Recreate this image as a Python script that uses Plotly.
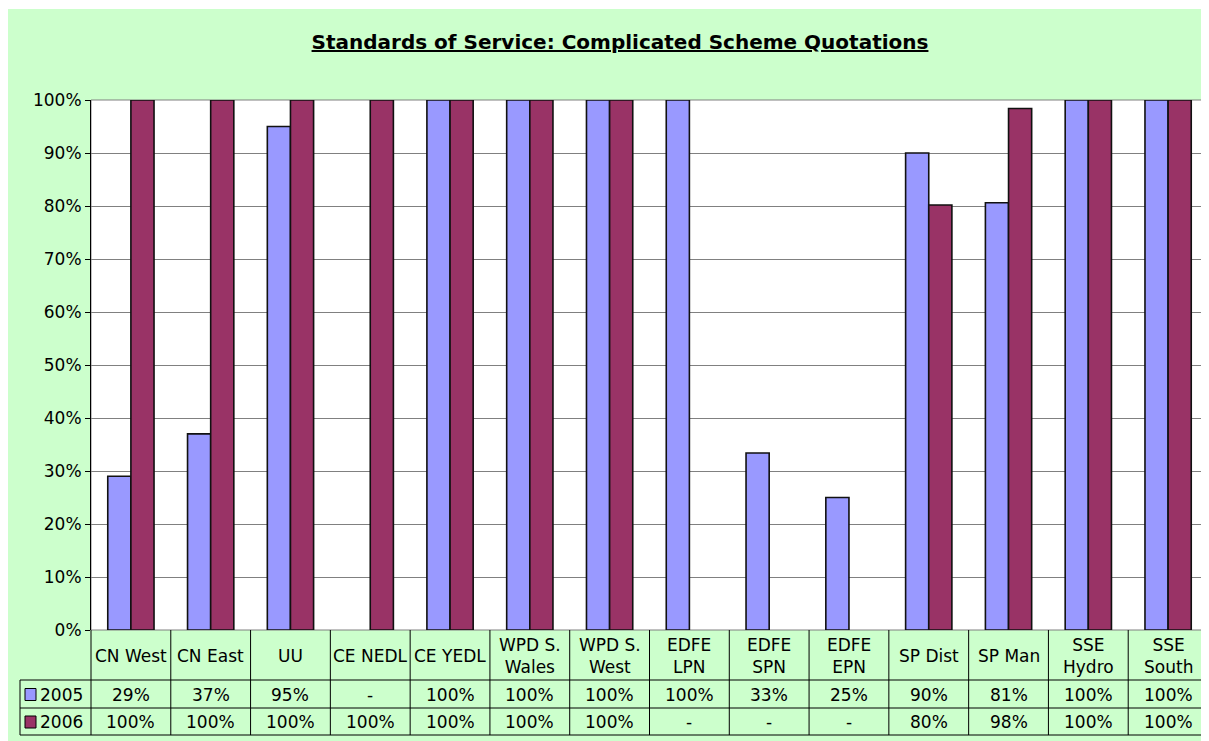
import plotly.graph_objects as go

# chart data
categories = ['CN West', 'CN East', 'UU', 'CE NEDL', 'CE YEDL', 'WPD S. Wales', 'WPD S. West',
              'EDFE LPN', 'EDFE SPN', 'EDFE EPN', 'SP Dist', 'SP Man', 'SSE Hydro', 'SSE South']
labels = ['CN West', 'CN East', 'UU', 'CE NEDL', 'CE YEDL', 'WPD S.<br>Wales', 'WPD S.<br>West',
          'EDFE<br>LPN', 'EDFE<br>SPN', 'EDFE<br>EPN', 'SP Dist', 'SP Man', 'SSE<br>Hydro', 'SSE<br>South']
y2005 = [0.29, 0.37, 0.95, None, 1.0, 1.0, 1.0, 1.0, 0.334, 0.25, 0.90, 0.806, 1.0, 1.0]
y2006 = [1.0, 1.0, 1.0, 1.0, 1.0, 1.0, 1.0, None, None, None, 0.802, 0.984, 1.0, 1.0]
series = ['2005', '2006']
colors = ['#9999FF', '#993366']

# page has an 8px body margin, so the figure sits at (8, 8)
OFF = 8
W, H = 1209, 741
L, R, T, B = 91, 1208, 100, 630   # plot area in page pixels
font = 'DejaVu Sans'


def px(x):
    return (x - L) / (R - L)


def py(y):
    return (B - y) / (B - T)


fig = go.Figure()
for name, vals, col in zip(series, [y2005, y2006], colors):
    fig.add_trace(go.Bar(x=categories, y=vals, name=name, marker_color=col,
                         marker_line=dict(color='#111111', width=1.6), showlegend=False))

shapes = [
    # green chart area + white plot area
    dict(type='rect', xref='paper', yref='paper', x0=px(7), x1=px(W + 2), y0=py(H + 2), y1=py(9),
         fillcolor='#CCFFCC', line_width=0, layer='below'),
    dict(type='rect', xref='paper', yref='paper', x0=0, x1=1, y0=0, y1=1,
         fillcolor='white', line=dict(color='#808080', width=1), layer='below'),
]
# data table lines
line = dict(color='black', width=1)
for yy in [680, 708, 735]:
    shapes.append(dict(type='line', xref='paper', yref='paper', x0=px(20), x1=1, y0=py(yy), y1=py(yy), line=line))
shapes.append(dict(type='line', xref='paper', yref='paper', x0=px(20), x1=px(20), y0=py(680), y1=py(735), line=line))
for i in range(len(categories) + 1):
    shapes.append(dict(type='line', xref='paper', yref='paper', x0=i / len(categories), x1=i / len(categories),
                       y0=0, y1=py(735), line=line))

tfont = dict(family=font, size=17, color='black')
annotations = []
for i, lab in enumerate(labels):
    annotations.append(dict(x=categories[i], y=py(656), xref='x', yref='paper', text=lab, showarrow=False,
                            font=tfont, xanchor='center', yanchor='middle'))
for name, vals, col, yc in zip(series, [y2005, y2006], colors, [694.5, 722]):
    shapes.append(dict(type='rect', xref='paper', yref='paper', x0=px(25), x1=px(36),
                       y0=py(yc + 6), y1=py(yc - 6), fillcolor=col, line=dict(color='black', width=1)))
    annotations.append(dict(x=px(38), y=py(yc), xref='paper', yref='paper', text=name, showarrow=False,
                            xanchor='left', yanchor='middle', font=tfont))
    for i, v in enumerate(vals):
        txt = '-' if v is None else '{:.0%}'.format(v)
        annotations.append(dict(x=categories[i], y=py(yc), xref='x', yref='paper', text=txt, showarrow=False,
                                xanchor='center', yanchor='middle', font=tfont))

fig.update_layout(
    width=W - OFF, height=H - OFF,
    margin=dict(l=L - OFF, r=W - R, t=T - OFF, b=H - B),
    paper_bgcolor='white', plot_bgcolor='rgba(0,0,0,0)',
    barmode='group', bargap=0.42, bargroupgap=0,
    title=dict(text='<b><u>Standards of Service: Complicated Scheme Quotations</u></b>',
               x=(620 - OFF) / (W - OFF), xanchor='center', y=1 - (42 - OFF) / (H - OFF), yanchor='middle',
               font=dict(family=font, size=20, color='black')),
    shapes=shapes, annotations=annotations,
    xaxis=dict(showticklabels=False, showgrid=False, zeroline=False, showline=False, ticks=''),
    yaxis=dict(range=[0, 1], dtick=0.1, tickformat='.0%', showgrid=True, gridcolor='#808080', gridwidth=1,
               zeroline=False, showline=True, linecolor='black', linewidth=1, ticks='outside', ticklen=5,
               tickcolor='black', tickfont=tfont),
)

fig.write_html("out.html")
